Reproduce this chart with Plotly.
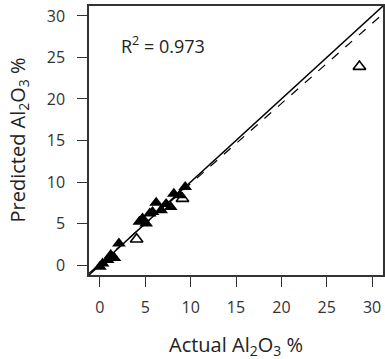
import plotly.graph_objects as go

# Calibration samples (filled triangles)
cal_actual = [9.4, 8.15, 8.8, 6.2, 7.3, 7.8, 6.75, 5.8, 5.5, 4.7, 4.35, 5.1, 2.1, 1.2, 1.6, 0.85, 0.3, 0.0]
cal_pred   = [9.4, 8.6, 8.4, 7.5, 7.35, 7.0, 6.6, 6.4, 6.2, 5.6, 5.2, 5.0, 2.6, 1.2, 0.85, 0.6, 0.2, -0.2]

# Validation samples (open triangles)
val_actual = [28.6, 9.1, 4.05]
val_pred   = [23.9, 8.0, 3.1]

# reference lines
line_range = [-1.2, 31.2]
fit_slope = 0.965
fit_intercept = 0.15
r2_text = "R<sup>2</sup> = 0.973"

x_ticks = [0, 5, 10, 15, 20, 25, 30]
y_ticks = [0, 5, 10, 15, 20, 25, 30]

FONT = "Open Sans"

fig = go.Figure()
fig.add_trace(go.Scatter(x=line_range, y=line_range, mode="lines",
                         line=dict(color="black", width=1.5), hoverinfo="skip"))
fig.add_trace(go.Scatter(x=line_range, y=[fit_slope * v + fit_intercept for v in line_range],
                         mode="lines", line=dict(color="black", width=1.2, dash="dash"),
                         hoverinfo="skip"))
fig.add_trace(go.Scatter(x=cal_actual, y=cal_pred, mode="markers",
                         marker=dict(symbol="triangle-up", size=12, color="black",
                                     line=dict(width=0))))
fig.add_trace(go.Scatter(x=val_actual, y=val_pred, mode="markers",
                         marker=dict(symbol="triangle-up-open", size=11, color="black",
                                     line=dict(width=1.6, color="black"))))

fig.add_annotation(x=6.9, y=26.5, xref="x", yref="y", text=r2_text, showarrow=False,
                   font=dict(family=FONT, size=18, color="#222"))
fig.add_annotation(x=0.5, y=0, xref="paper", yref="paper", yshift=-70, yanchor="middle",
                   text="Actual Al<sub>2</sub>O<sub>3</sub> %", showarrow=False,
                   font=dict(family=FONT, size=20, color="#222"))
fig.add_annotation(x=0, y=0.5, xref="paper", yref="paper", xshift=-71, xanchor="center",
                   text="Predicted Al<sub>2</sub>O<sub>3</sub> %", showarrow=False, textangle=-90,
                   font=dict(family=FONT, size=20, color="#222"))

axis_common = dict(showgrid=False, zeroline=False, showline=True, mirror=True,
                   linecolor="#333", linewidth=1.5, ticks="outside", ticklen=10,
                   tickwidth=1.2, tickcolor="#333", automargin=False,
                   tickfont=dict(family=FONT, size=16, color="#333"))
fig.update_xaxes(range=line_range, tickvals=x_ticks, ticklabelstandoff=7, **axis_common)
fig.update_yaxes(range=line_range, tickvals=y_ticks, ticklabelstandoff=9, **axis_common)

fig.update_layout(width=385, height=359, margin=dict(l=89, r=2, t=6, b=84),
                  paper_bgcolor="white", plot_bgcolor="white", showlegend=False)

fig.write_html("out.html", config={"displayModeBar": False},
               post_script="document.body.style.margin='0';document.body.style.overflow='hidden';")
